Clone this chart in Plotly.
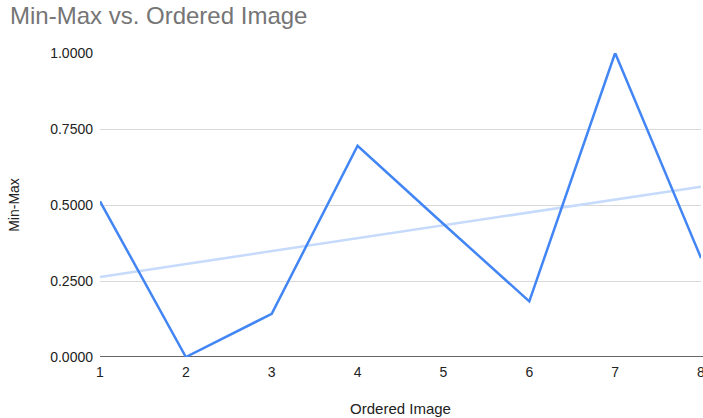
import numpy as np
import plotly.graph_objects as go

# Ordered image index and its min-max normalised score
ordered_image = [1, 2, 3, 4, 5, 6, 7, 8]
min_max = [0.512, 0.0, 0.142, 0.695, 0.4375, 0.183, 1.0, 0.326]

y_ticks = [0.0, 0.25, 0.5, 0.75, 1.0]
y_tick_labels = ["0.0000", "0.2500", "0.5000", "0.7500", "1.0000"]

# Linear trendline fitted to the series
slope, intercept = np.polyfit(ordered_image, min_max, 1)
trend_x = [ordered_image[0], ordered_image[-1]]
trend_y = [slope * x + intercept for x in trend_x]

fig = go.Figure()
fig.add_trace(go.Scatter(
    x=trend_x, y=trend_y, mode="lines",
    line=dict(color="#c6dafc", width=2.5),
    hoverinfo="skip", showlegend=False,
))
fig.add_trace(go.Scatter(
    x=ordered_image, y=min_max, mode="lines",
    line=dict(color="#4285f4", width=2.5),
    showlegend=False, cliponaxis=False,
))

font_family = "Liberation Sans, Arial, sans-serif"

fig.update_layout(
    width=703, height=418,
    margin=dict(l=100, r=2, t=53, b=61, autoexpand=False),
    paper_bgcolor="white", plot_bgcolor="white",
    font=dict(family=font_family, size=14, color="#222222"),
    title=dict(
        text="Min-Max vs. Ordered Image",
        font=dict(family=font_family, size=24, color="#757575"),
        x=10 / 703, xanchor="left", xref="container",
        y=1 - 7 / 418, yanchor="top", yref="container",
    ),
    xaxis=dict(
        range=[1, 8], tickmode="array", tickvals=ordered_image,
        ticktext=[str(v) for v in ordered_image],
        showgrid=False, zeroline=False, showline=False, automargin=False,
        ticks="", ticklabelstandoff=5, ticklabeloverflow="allow",
        tickfont=dict(size=14, color="#222222"),
        title=dict(text="Ordered Image", font=dict(size=15, color="#222222"), standoff=24),
    ),
    yaxis=dict(
        range=[0, 1], tickmode="array", tickvals=y_ticks, ticktext=y_tick_labels,
        showgrid=True, gridcolor="#d9d9d9", gridwidth=1,
        zeroline=False, showline=False, ticks="", automargin=False,
        ticklabelstandoff=6,
        tickfont=dict(size=14, color="#222222"),
        title=dict(text="Min-Max", font=dict(size=14, color="#222222"), standoff=27),
    ),
    shapes=[dict(
        type="line", xref="paper", yref="y", x0=0, x1=1.01, y0=0, y1=0,
        line=dict(color="#333333", width=1.5), layer="below",
    )],
)

fig.write_html("out.html")
